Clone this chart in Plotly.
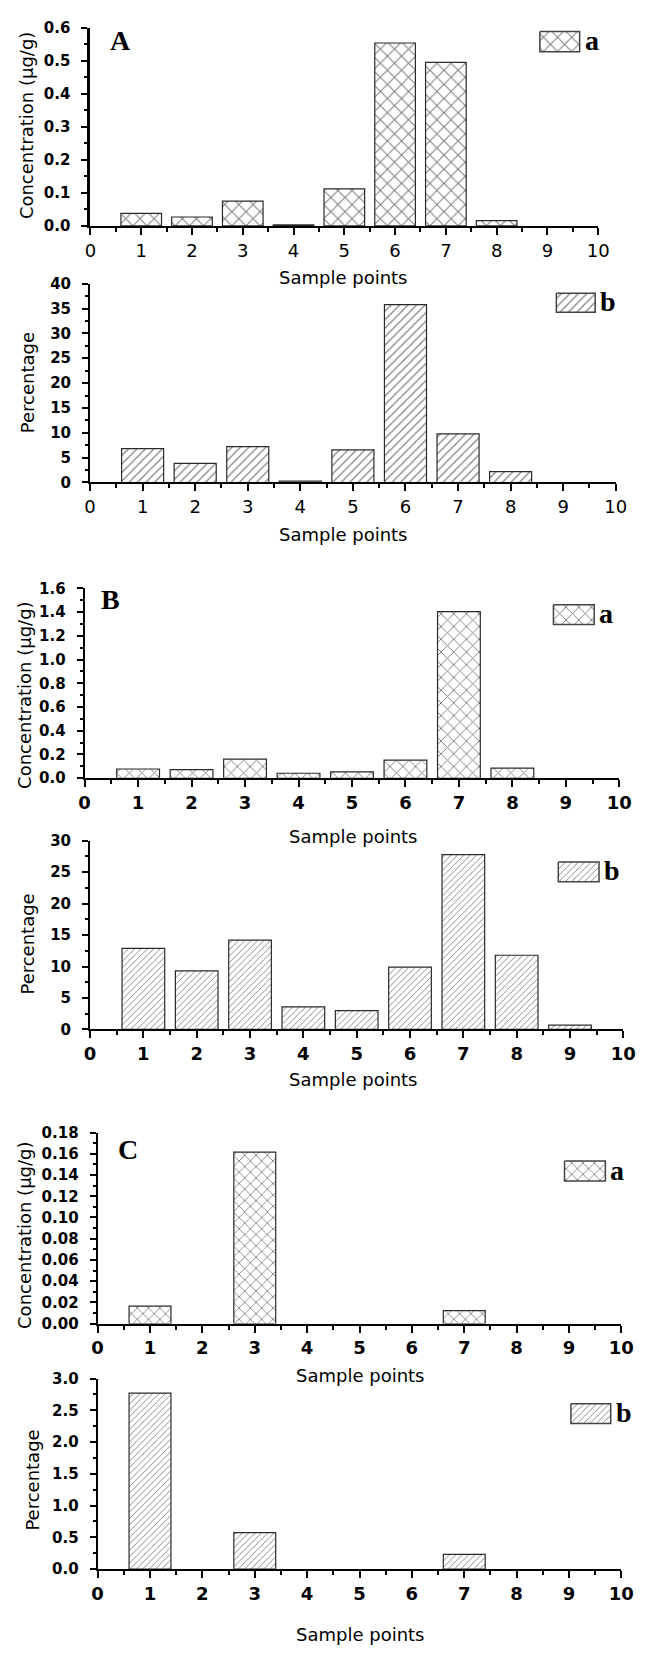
import plotly.graph_objects as go

W, H = 647, 1654

# ---------------- data ----------------
sample_points = [1, 2, 3, 4, 5, 6, 7, 8, 9]
x_ticks = [0, 1, 2, 3, 4, 5, 6, 7, 8, 9, 10]

A_conc = [0.038, 0.027, 0.075, 0.003, 0.112, 0.554, 0.495, 0.016, 0.0]
A_pct = [6.8, 3.85, 7.2, 0.27, 6.55, 35.8, 9.8, 2.2, 0.0]
B_conc = [0.078, 0.072, 0.161, 0.042, 0.053, 0.153, 1.403, 0.086, 0.0]
B_pct = [12.9, 9.3, 14.2, 3.6, 3.0, 9.9, 27.8, 11.8, 0.7]
C_conc = [0.0165, 0.0, 0.1616, 0.0, 0.0, 0.0, 0.0121, 0.0, 0.0]
C_pct = [2.77, 0.0, 0.576, 0.0, 0.0, 0.0, 0.233, 0.0, 0.0]

panel_letters = ["A", "B", "C"]
series_letters = ["a", "b"]
x_title = "Sample points"
conc_title = "Concentration (µg/g)"
pct_title = "Percentage"

# ---------------- layout helpers ----------------
def fx(px):
    return px / W

def fy(py):
    return 1 - py / H

SANS = "DejaVu Sans, Liberation Sans, Arial"
SERIF = "Liberation Serif, Times New Roman, serif"

panels = [
    dict(vals=A_conc, x=(87.0, 610.1), y=(19.0, 219.3), yr=[0, 0.6], dt=0.1, mdt=0.05, fmt=".1f",
         pat="x", psize=10, xbold=False, ytitle=conc_title, ytx=20.5, yty=117.5,
         xtx=348, xty=271.7, leg=(550, 591, 22.7, 43.3), legl="a", letter=panel_letters[0], lx=117.5, ly=32, yfs=15),
    dict(vals=A_pct, x=(86.6, 628.2), y=(277.7, 478.7), yr=[0, 40], dt=5, mdt=2.5, fmt="d",
         pat="/", psize=6, xbold=False, ytitle=pct_title, ytx=23, yty=378,
         xtx=348, xty=531.7, leg=(567, 607, 287.3, 306.7), legl="b", letter=None, yfs=15),
    dict(vals=B_conc, x=(81.0, 631.9), y=(585.7, 777.7), yr=[0, 1.6], dt=0.2, mdt=0.1, fmt=".1f",
         pat="x", psize=9, xbold=True, ytitle=conc_title, ytx=19, yty=694,
         xtx=358, xty=836.7, leg=(564, 606, 602.3, 622.3), legl="a", letter=panel_letters[1], lx=108, ly=596.7, yfs=15),
    dict(vals=B_pct, x=(86.6, 636.0), y=(840.9, 1031.7), yr=[0, 30], dt=5, mdt=2.5, fmt="d",
         pat="/", psize=4.5, xbold=True, ytitle=pct_title, ytx=22, yty=945.5,
         xtx=358, xty=1082.7, leg=(569, 611, 862.3, 882.3), legl="b", letter=None, yfs=15),
    dict(vals=C_conc, x=(94.4, 634.0), y=(1136.0, 1329.0), yr=[0, 0.18], dt=0.02, mdt=0.01, fmt=".2f",
         pat="x", psize=8, xbold=True, ytitle=conc_title, ytx=19, yty=1240,
         xtx=364.8, xty=1381.7, leg=(575.4, 617.5, 1164.7, 1185), legl="a", letter=panel_letters[2], lx=125.7, ly=1153, yfs=15),
    dict(vals=C_pct, x=(94.4, 634.0), y=(1384.6, 1577.3), yr=[0, 3.0], dt=0.5, mdt=0.25, fmt=".1f",
         pat="/", psize=4.5, xbold=True, ytitle=pct_title, ytx=27, yty=1487.6,
         xtx=364.8, xty=1643, leg=(582, 623, 1410, 1430), legl="b", letter=None, yfs=15),
]

fig = go.Figure()
annotations = []
layout_axes = {}

for i, p in enumerate(panels, start=1):
    xa = "x" if i == 1 else f"x{i}"
    ya = "y" if i == 1 else f"y{i}"
    xkey = "xaxis" if i == 1 else f"xaxis{i}"
    ykey = "yaxis" if i == 1 else f"yaxis{i}"

    fig.add_trace(go.Bar(
        x=sample_points, y=p["vals"], width=0.8, xaxis=xa, yaxis=ya, showlegend=False,
        marker=dict(color="white",
                    line=dict(color="#2a2a2a", width=[1.2 if v > 0 else 0 for v in p["vals"]]),
                    pattern=dict(shape=p["pat"], size=p["psize"], solidity=0.2,
                                 fgcolor="black", bgcolor="white", fillmode="overlay")),
    ))

    xfont = dict(family=SANS, size=18, color="black",
                 weight="bold" if p["xbold"] else "normal")
    layout_axes[xkey] = dict(
        domain=[fx(p["x"][0]), fx(p["x"][1])], range=[0, 10], anchor=ya,
        tickmode="array", tickvals=x_ticks, ticktext=[str(t) for t in x_ticks],
        ticks="outside", ticklen=7, tickwidth=1.5, tickcolor="black",
        showline=True, linewidth=2, linecolor="black", showgrid=False, zeroline=False,
        minor=dict(ticks="outside", ticklen=4, tickwidth=1.5, dtick=0.5, tick0=0, tickcolor="black", showgrid=False),
        tickfont=xfont, ticklabelstandoff=0, fixedrange=True,
    )
    layout_axes[ykey] = dict(
        domain=[fy(p["y"][1]), fy(p["y"][0])], range=p["yr"], anchor=xa,
        tick0=0, dtick=p["dt"], tickformat=p["fmt"],
        ticks="outside", ticklen=6, tickwidth=2, tickcolor="black",
        showline=True, linewidth=3 if i == 1 else 2, linecolor="black", showgrid=False, zeroline=False,
        minor=dict(ticks="outside", ticklen=3, tickwidth=2, dtick=p["mdt"], tick0=0, tickcolor="black", showgrid=False),
        tickfont=dict(family=SANS, size=p["yfs"], color="black", weight="bold"),
        ticklabelstandoff=8, fixedrange=True,
    )

    annotations.append(dict(text=x_title, x=fx(p["xtx"]), y=fy(p["xty"]), xref="paper", yref="paper",
                            xanchor="center", yanchor="middle", showarrow=False,
                            font=dict(family=SANS, size=18, color="black")))
    annotations.append(dict(text=p["ytitle"], x=fx(p["ytx"]), y=fy(p["yty"]), xref="paper", yref="paper",
                            xanchor="center", yanchor="middle", showarrow=False, textangle=-90,
                            font=dict(family=SANS, size=18, color="black")))
    if p["letter"]:
        annotations.append(dict(text=f"<b>{p['letter']}</b>", x=fx(p["lx"]), y=fy(p["ly"]),
                                xref="paper", yref="paper", xanchor="center", yanchor="middle",
                                showarrow=False, font=dict(family=SERIF, size=28, color="black")))
    lx0, lx1, ly0, ly1 = p["leg"]
    annotations.append(dict(text=f"<b>{p['legl']}</b>", x=fx(lx1 + 3), y=fy((ly0 + ly1) / 2 - 1),
                            xref="paper", yref="paper", xanchor="left", yanchor="middle",
                            showarrow=False, font=dict(family=SERIF, size=28, color="black")))

# overlay pixel axis for legend swatches
layout_axes["xaxis7"] = dict(domain=[0, 1], range=[0, W], anchor="y7", visible=False, fixedrange=True)
layout_axes["yaxis7"] = dict(domain=[0, 1], range=[H, 0], anchor="x7", visible=False, fixedrange=True)
for p in panels:
    lx0, lx1, ly0, ly1 = p["leg"]
    fig.add_trace(go.Scatter(
        x=[lx0, lx1, lx1, lx0, lx0], y=[ly0, ly0, ly1, ly1, ly0], xaxis="x7", yaxis="y7",
        mode="lines", fill="toself", fillcolor="white", showlegend=False, hoverinfo="skip",
        line=dict(color="#444", width=1.5),
        fillpattern=dict(shape=p["pat"], size=p["psize"], solidity=0.2, fgcolor="black", bgcolor="white"),
    ))

fig.update_layout(
    width=W, height=H, margin=dict(l=0, r=0, t=0, b=0),
    paper_bgcolor="white", plot_bgcolor="rgba(0,0,0,0)",
    showlegend=False, bargap=0.2, annotations=annotations,
    **layout_axes,
)

fig.write_html(
    "out.html", config={"displayModeBar": False},
    post_script=(
        "document.documentElement.style.margin='0px';"
        "document.documentElement.style.overflow='hidden';"
        "document.body.style.margin='0px';document.body.style.padding='0px';"
        "document.body.style.overflow='hidden';"
    ),
)
